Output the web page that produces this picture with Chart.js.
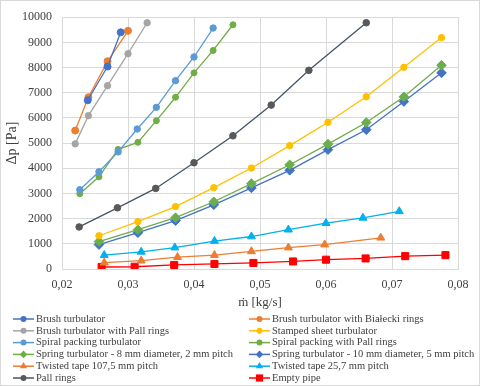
<!DOCTYPE html>
<html>
<head>
<meta charset="utf-8">
<script src="https://cdn.jsdelivr.net/npm/chart.js@4"></script>
<style>
  html, body { margin: 0; padding: 0; background: #fff; }
  #wrap { width: 480px; height: 386px; }
</style>
</head>
<body>
<div id="wrap"><canvas id="myChart" width="480" height="386"></canvas></div>
<script>
// series names (legend order)
const seriesNames = [
  "Brush turbulator",
  "Brush turbulator with Białecki rings",
  "Brush turbulator with Pall rings",
  "Stamped sheet turbulator",
  "Spiral packing turbulator",
  "Spiral packing with Pall rings",
  "Spring turbulator - 8 mm diameter, 2 mm pitch",
  "Spring turbulator - 10 mm diameter, 5 mm pitch",
  "Twisted tape 107,5 mm pitch",
  "Twisted tape 25,7 mm pitch",
  "Pall rings",
  "Empty pipe"
];

// mass flow [kg/s] and pressure drop [Pa]
const brushX = [0.0239, 0.0269, 0.0289];
const brushY = [6700, 8040, 9400];

const bialeckiX = [0.0220, 0.0240, 0.0269, 0.0300];
const bialeckiY = [5500, 6820, 8250, 9460];

const brushPallX = [0.0220, 0.0240, 0.0269, 0.0300, 0.0329];
const brushPallY = [4970, 6090, 7280, 8550, 9780];

const stampedX = [0.0256, 0.0315, 0.0372, 0.0430, 0.0487, 0.0545, 0.0603, 0.0661, 0.0718, 0.0775];
const stampedY = [1320, 1880, 2480, 3230, 4010, 4900, 5830, 6840, 8010, 9190];

const spiralX = [0.0227, 0.0256, 0.0285, 0.0314, 0.0343, 0.0372, 0.0400, 0.0429];
const spiralY = [3150, 3860, 4650, 5560, 6420, 7480, 8420, 9570];

const spiralPallX = [0.0227, 0.0256, 0.0285, 0.0315, 0.0343, 0.0372, 0.0400, 0.0429, 0.0459];
const spiralPallY = [2990, 3660, 4750, 5030, 5890, 6820, 7790, 8680, 9700];

const springX = [0.0256, 0.0315, 0.0372, 0.0430, 0.0487, 0.0545, 0.0603, 0.0661, 0.0718, 0.0775];
const spring8Y = [1090, 1560, 2040, 2670, 3390, 4140, 4960, 5820, 6840, 8090];
const spring10Y = [970, 1440, 1920, 2550, 3220, 3920, 4740, 5530, 6650, 7790];

const tape107X = [0.0264, 0.0320, 0.0375, 0.0431, 0.0487, 0.0543, 0.0598, 0.0683];
const tape107Y = [250, 330, 470, 550, 700, 850, 970, 1240];

const tape25X = [0.0264, 0.0320, 0.0371, 0.0431, 0.0487, 0.0543, 0.0600, 0.0656, 0.0711];
const tape25Y = [550, 680, 850, 1110, 1290, 1560, 1820, 2030, 2290];

const pallX = [0.0226, 0.0284, 0.0342, 0.0400, 0.0459, 0.0517, 0.0574, 0.0661];
const pallY = [1670, 2430, 3200, 4220, 5290, 6510, 7890, 9780];

const emptyX = [0.0260, 0.0310, 0.0370, 0.0431, 0.0490, 0.0550, 0.0600, 0.0660, 0.0720, 0.0781];
const emptyY = [80, 90, 160, 200, 240, 300, 370, 420, 510, 550];

// axis ticks
const xTicks = [0.02, 0.03, 0.04, 0.05, 0.06, 0.07, 0.08];
const yTicks = [0, 1000, 2000, 3000, 4000, 5000, 6000, 7000, 8000, 9000, 10000];

const FONT = "'Liberation Serif', 'Times New Roman', serif";
const TXT = "#404040";
const GRID = "#D9D9D9";

const pts = (xs, ys) => xs.map((x, i) => ({ x: x, y: ys[i] }));

const mk = (i, xs, ys, line, fill, style, r) => ({
  label: seriesNames[i],
  data: pts(xs, ys),
  showLine: true,
  borderColor: line,
  backgroundColor: fill,
  pointBackgroundColor: fill,
  pointBorderColor: fill,
  borderWidth: 1.3,
  pointStyle: style,
  pointRadius: r,
  pointBorderWidth: 1,
  tension: 0
});

const datasets = [
  mk(0, brushX, brushY, "#4472C4", "#4472C4", "circle", 3.5),
  mk(1, bialeckiX, bialeckiY, "#ED7D31", "#ED7D31", "circle", 3.5),
  mk(2, brushPallX, brushPallY, "#A5A5A5", "#A5A5A5", "circle", 3.2),
  mk(3, stampedX, stampedY, "#FFC000", "#FFC000", "circle", 3.2),
  mk(4, spiralX, spiralY, "#5B9BD5", "#5B9BD5", "circle", 3.2),
  mk(5, spiralPallX, spiralPallY, "#70AD47", "#70AD47", "circle", 3),
  mk(6, springX, spring8Y, "#70AD47", "#6AB04A", "rectRot", 4.8),
  mk(7, springX, spring10Y, "#4472C4", "#4472C4", "rectRot", 4.8),
  mk(8, tape107X, tape107Y, "#ED7D31", "#ED7D31", "triangle", 4.6),
  mk(9, tape25X, tape25Y, "#00B0F0", "#00B0F0", "triangle", 4.6),
  mk(10, pallX, pallY, "#44546A", "#595959", "circle", 3.3),
  mk(11, emptyX, emptyY, "#FF0000", "#FF0000", "rect", 5)
];

// draw a small marker for the legend
function drawMarker(ctx, style, x, y, r, color) {
  ctx.fillStyle = color;
  ctx.beginPath();
  if (style === "circle") {
    ctx.arc(x, y, r, 0, Math.PI * 2);
  } else if (style === "rectRot") {
    ctx.moveTo(x, y - r); ctx.lineTo(x + r, y); ctx.lineTo(x, y + r); ctx.lineTo(x - r, y);
  } else if (style === "triangle") {
    ctx.moveTo(x, y - r); ctx.lineTo(x + r * 0.87, y + r * 0.5); ctx.lineTo(x - r * 0.87, y + r * 0.5);
  } else {
    ctx.rect(x - r, y - r, 2 * r, 2 * r);
  }
  ctx.closePath();
  ctx.fill();
}

const twoColLegend = {
  id: "twoColLegend",
  afterDraw(chart) {
    const ctx = chart.ctx;
    ctx.save();
    ctx.font = "10.5px " + FONT;
    ctx.textBaseline = "middle";
    ctx.textAlign = "left";
    chart.data.datasets.forEach((ds, i) => {
      const col = i % 2, row = Math.floor(i / 2);
      const x0 = col ? 249 : 13;
      const y = 319 + row * 11.8;
      ctx.strokeStyle = ds.borderColor;
      ctx.lineWidth = 1.5;
      ctx.beginPath();
      ctx.moveTo(x0, y); ctx.lineTo(x0 + 21, y);
      ctx.stroke();
      let r = 3;
      if (ds.pointStyle === "rectRot") r = 3.8;
      if (ds.pointStyle === "triangle") r = 4.2;
      if (ds.pointStyle === "rect") r = 3.6;
      drawMarker(ctx, ds.pointStyle, x0 + 10.5, y, r, ds.pointBackgroundColor);
      ctx.fillStyle = TXT;
      ctx.fillText(ds.label, x0 + 23, y);
    });
    // outer frame
    ctx.strokeStyle = GRID;
    ctx.lineWidth = 1;
    ctx.strokeRect(0.5, 0.5, chart.width - 1, chart.height - 1);
    ctx.restore();
  }
};

const whiteBg = {
  id: "whiteBg",
  beforeDraw(chart) {
    const ctx = chart.ctx;
    ctx.save();
    ctx.fillStyle = "#fff";
    ctx.fillRect(0, 0, chart.width, chart.height);
    ctx.restore();
  }
};

const config = {
  type: "scatter",
  data: { datasets },
  options: {
    responsive: false,
    animation: false,
    devicePixelRatio: 1,
    layout: { padding: { left: 0, top: 14, right: 22, bottom: 76 } },
    plugins: {
      legend: { display: false },
      tooltip: { enabled: false }
    },
    scales: {
      x: {
        type: "linear",
        min: xTicks[0],
        max: xTicks[xTicks.length - 1],
        afterBuildTicks: (scale) => { scale.ticks = xTicks.map((v) => ({ value: v })); },
        afterFit: (scale) => { scale.height = 41; },
        grid: { color: GRID, drawTicks: false },
        border: { color: GRID },
        ticks: {
          padding: 9,
          color: TXT,
          font: { family: FONT, size: 12 },
          callback: (v) => v.toFixed(2).replace(".", ",")
        },
        title: {
          display: true,
          text: "ṁ [kg/s]",
          color: TXT,
          font: { family: FONT, size: 13 },
          padding: { top: 0, bottom: 0 }
        }
      },
      y: {
        min: yTicks[0],
        max: yTicks[yTicks.length - 1],
        afterBuildTicks: (scale) => { scale.ticks = yTicks.map((v) => ({ value: v })); },
        afterFit: (scale) => { scale.width = 62; },
        grid: { color: GRID, drawTicks: false },
        border: { color: GRID },
        ticks: {
          padding: 10,
          color: TXT,
          font: { family: FONT, size: 12 },
          callback: (v) => String(v)
        },
        title: {
          display: true,
          text: "Δp [Pa]",
          color: TXT,
          font: { family: FONT, size: 14 },
          padding: { top: 4, bottom: 0 }
        }
      }
    }
  },
  plugins: [whiteBg, twoColLegend]
};

var myChart = new Chart(document.getElementById("myChart"), config);
</script>
</body>
</html>
